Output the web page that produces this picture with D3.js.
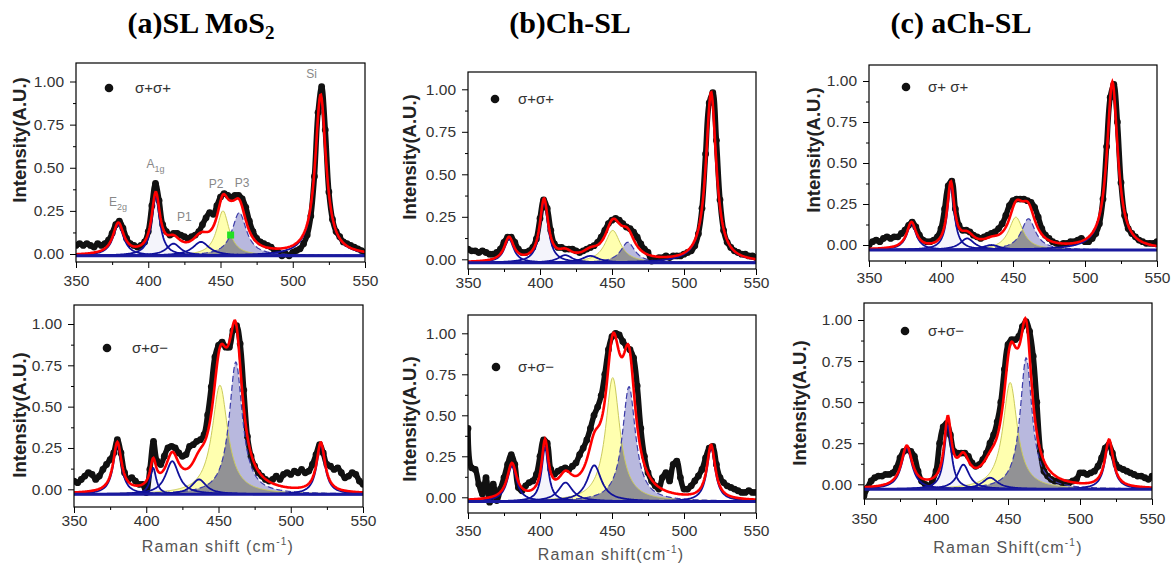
<!DOCTYPE html>
<html><head><meta charset="utf-8">
<script src="https://cdn.jsdelivr.net/npm/d3@7/dist/d3.min.js"></script>
<style>body{margin:0;background:#fff}svg{display:block}</style>
</head><body>
<svg id="chart" width="1173" height="568"></svg>
<script>
// ---------- DATA ----------
const gridStart = 350, gridStep = 2.5;   // sampling grid of the measured spectra (cm^-1)
const xTicks = [350, 400, 450, 500, 550];
const xMinorTicks = [375, 425, 475, 525];
const yTicks = [0, 0.25, 0.5, 0.75, 1.0];
const yMinorTicks = [0.125, 0.375, 0.625, 0.875];

// measured intensity, 350..550 step 2.5
const spectrumA_pp = [0.05,0.06,0.05,0.06,0.05,0.04,0.06,0.05,0.06,0.08,
 0.12,0.17,0.19,0.15,0.09,0.06,0.05,0.04,0.05,0.07,
 0.13,0.28,0.41,0.31,0.17,0.13,0.11,0.12,0.12,0.11,
 0.10,0.09,0.10,0.11,0.13,0.17,0.21,0.24,0.23,0.28,
 0.33,0.35,0.34,0.33,0.34,0.34,0.32,0.27,0.19,0.13,
 0.09,0.07,0.06,0.05,0.04,0.02,0.01,-0.01,0.00,-0.01,
 0.01,0.02,0.03,0.06,0.11,0.22,0.45,0.82,0.97,0.72,
 0.36,0.20,0.13,0.10,0.07,0.06,0.05,0.04,0.03,0.02,
 0.01];
const spectrumA_pm = [0.05,0.04,0.06,0.08,0.10,0.09,0.06,0.08,0.12,0.15,
 0.18,0.22,0.30,0.22,0.10,0.06,0.07,0.05,0.03,0.03,
 -0.02,0.12,0.29,0.17,0.15,0.20,0.25,0.26,0.25,0.22,
 0.20,0.21,0.26,0.27,0.29,0.30,0.33,0.45,0.62,0.80,
 0.87,0.89,0.86,0.86,0.96,0.99,0.88,0.60,0.32,0.20,
 0.14,0.10,0.08,0.06,0.05,0.06,0.08,0.06,0.09,0.10,
 0.09,0.11,0.10,0.12,0.10,0.11,0.15,0.21,0.27,0.22,
 0.15,0.14,0.12,0.13,0.10,0.07,0.08,0.10,0.09,0.05,
 0.03];
const spectrumB_pp = [0.06,0.05,0.05,0.04,0.05,0.04,0.03,0.03,0.04,0.06,
 0.10,0.13,0.13,0.10,0.06,0.04,0.04,0.05,0.07,0.12,
 0.24,0.35,0.30,0.17,0.09,0.07,0.07,0.06,0.06,0.06,
 0.05,0.04,0.05,0.06,0.07,0.08,0.10,0.13,0.17,0.21,
 0.23,0.24,0.23,0.21,0.19,0.18,0.16,0.13,0.09,0.06,
 0.04,-0.01,0.00,0.01,0.01,0.02,0.01,0.02,0.02,0.02,
 0.03,0.04,0.05,0.08,0.15,0.30,0.62,0.92,0.98,0.70,
 0.35,0.17,0.10,0.07,0.05,0.04,0.03,0.03,0.02,0.02,
 0.01];
const spectrumB_pm = [0.42,0.18,0.17,0.08,0.02,0.12,-0.03,0.08,-0.02,0.05,
 0.12,0.20,0.26,0.20,0.06,0.04,0.07,0.09,0.10,0.14,
 0.25,0.35,0.33,0.17,0.14,0.16,0.17,0.18,0.17,0.19,
 0.21,0.26,0.30,0.35,0.42,0.50,0.55,0.62,0.75,0.90,
 0.98,1.00,0.99,0.95,0.92,0.90,0.85,0.68,0.42,0.25,
 0.15,0.10,0.07,0.05,0.12,0.15,0.10,0.20,0.22,0.12,
 0.05,0.05,0.07,0.10,0.13,0.17,0.24,0.30,0.31,0.20,
 0.12,0.09,0.07,0.06,0.05,0.04,0.03,0.03,0.04,0.03,
 0.03];
const spectrumC_pp = [0.00,0.02,0.03,0.02,0.04,0.05,0.04,0.05,0.05,0.07,
 0.09,0.12,0.14,0.11,0.06,0.03,0.02,0.02,0.03,0.05,
 0.10,0.22,0.36,0.39,0.22,0.12,0.09,0.09,0.08,0.06,
 0.05,0.04,0.05,0.06,0.07,0.08,0.10,0.13,0.18,0.24,
 0.27,0.28,0.28,0.28,0.27,0.26,0.23,0.17,0.10,0.06,
 0.04,0.02,0.01,0.00,0.01,0.01,0.02,0.02,0.03,0.04,
 0.02,0.02,0.04,0.07,0.13,0.28,0.60,0.90,0.98,0.75,
 0.38,0.18,0.10,0.07,0.05,0.03,0.02,0.01,0.01,0.01,
 0.02];
const spectrumC_pm = [-0.07,-0.02,0.02,0.04,0.05,0.05,0.06,0.06,0.07,0.10,
 0.16,0.20,0.21,0.20,0.17,0.08,0.02,0.00,-0.01,0.02,
 0.08,0.25,0.35,0.37,0.30,0.20,0.19,0.19,0.19,0.17,
 0.13,0.11,0.12,0.15,0.19,0.25,0.30,0.38,0.50,0.70,
 0.85,0.88,0.88,0.90,0.96,0.99,0.93,0.78,0.50,0.20,
 0.08,0.05,0.03,0.02,0.02,0.01,0.01,0.01,0.02,0.03,
 0.07,0.07,0.06,0.07,0.08,0.11,0.16,0.22,0.24,0.19,
 0.12,0.10,0.09,0.08,0.07,0.06,0.05,0.05,0.04,0.03,
 0.05];

// fitted Lorentzian components: E2g, A1g, P1, P(436), P2, broad band, P3, Si
const centersA_pp = [379.3,405.2,417.5,436.5,451.7,457.5,463,519.3];
const heightsA_pp = [0.18,0.34,0.07,0.08,0.26,0.05,0.25,0.93];
const widthsA_pp  = [4.5,3.5,6,7,5.2,4,6,4.5];
const baselineA_pp = -0.01;
const centersA_pm = [380,404.8,418,436.5,451,457,462,520.8];
const heightsA_pm = [0.30,0.16,0.20,0.09,0.66,0.10,0.80,0.30];
const widthsA_pm  = [3.5,2.5,5.5,6,6.5,6,5.5,3.5];
const baselineA_pm = -0.03;
const centersB_pp = [378.5,402.8,417.5,435,450.5,455,461,518.8];
const heightsB_pp = [0.14,0.36,0.045,0.04,0.19,0.03,0.12,1.0];
const widthsB_pp  = [4,3.5,6,7,6.5,8,6,4.3];
const baselineB_pp = -0.02;
const centersB_pm = [380.5,403.5,417.7,437.7,450.5,455,461.8,518.8];
const heightsB_pm = [0.215,0.33,0.115,0.22,0.755,0.12,0.70,0.33];
const widthsB_pm  = [4,2.8,6,6,6,7,5.5,3.5];
const baselineB_pm = -0.025;
const centersC_pp = [379.5,406.8,418.2,435,452,456,460.7,519];
const heightsC_pp = [0.16,0.39,0.07,0.03,0.20,0.03,0.19,1.02];
const widthsC_pp  = [4,3,6,7,6,8,6,4.5];
const baselineC_pp = -0.03;
const centersC_pm = [379.7,408.2,419,437.6,451.5,457,462.6,520.2];
const heightsC_pm = [0.25,0.39,0.15,0.07,0.65,0.14,0.80,0.29];
const widthsC_pm  = [4.5,3,5,6.5,6,6,5,3.5];
const baselineC_pm = -0.03;

const panelTitles = ["(a)SL MoS", "(b)Ch-SL", "(c) aCh-SL"];
const legendLabels = ["σ+σ+", "σ+σ−", "σ+σ+", "σ+σ−", "σ+ σ+", "σ+σ−"];
const xAxisTitles = ["Raman shift (cm", "Raman shift(cm", "Raman Shift(cm"];
const yAxisTitle = "Intensity(A.U.)";
const peakLabels = [["E","2g"],["A","1g"],["P1",""],["P2",""],["P3",""],["Si",""]];
const peakLabelPos = [[379,0.28],[405,0.5],[425,0.19],[447,0.38],[465,0.39],[513,1.02]];
const markerPoint = [457, 0.11];

// ---------- LAYOUT / STYLE ----------
const componentKind = ["line","lightfill","line","line","yellow","hidden","lavender","line"];
const panels = [
 {data:spectrumA_pp, c:centersA_pp, h:heightsA_pp, w:widthsA_pp, b:baselineA_pp, box:[76,365,63,262], zero:254, one:81.5, tickY:286, leg:[109,88,135], yt:[19,140], legend:0},
 {data:spectrumA_pm, c:centersA_pm, h:heightsA_pm, w:widthsA_pm, b:baselineA_pm, box:[74,363,305,507], zero:489.3, one:324, tickY:526, leg:[107,348,132], yt:[19,415], legend:1, xt:[218,552,0]},
 {data:spectrumB_pp, c:centersB_pp, h:heightsB_pp, w:widthsB_pp, b:baselineB_pp, box:[468,756,72,269], zero:259.3, one:89.3, tickY:288, leg:[495,99,518], yt:[409,157], legend:2},
 {data:spectrumB_pm, c:centersB_pm, h:heightsB_pm, w:widthsB_pm, b:baselineB_pm, box:[468,756,315,513], zero:497.3, one:333.3, tickY:536, leg:[496,367,518], yt:[409,419], legend:3, xt:[611,560,1]},
 {data:spectrumC_pp, c:centersC_pp, h:heightsC_pp, w:widthsC_pp, b:baselineC_pp, box:[869,1157,65,261], zero:245, one:81, tickY:283, leg:[906,87,928], yt:[813,150], legend:4},
 {data:spectrumC_pm, c:centersC_pm, h:heightsC_pm, w:widthsC_pm, b:baselineC_pm, box:[864,1152,303,499], zero:484.3, one:320, tickY:524, leg:[905,331,928], yt:[799,403], legend:5, xt:[1008,553,2]}
];

const svg = d3.select("#chart");
const defs = svg.append("defs");
const lor = (v, c, h, w) => h / (1 + ((v - c) / w) ** 2);
const fine = d3.range(350, 550.001, 0.5);
const sansFont = "'Liberation Sans', Arial, sans-serif";

panels.forEach((p, pi) => {
  const [x0, x1, y0, y1] = p.box;
  const x = d3.scaleLinear().domain([350, 550]).range([x0, x1]);
  const y = d3.scaleLinear().domain([0, 1]).range([p.zero, p.one]);
  const clipId = "clip" + pi;
  defs.append("clipPath").attr("id", clipId).append("rect")
    .attr("x", x0).attr("y", y0).attr("width", x1 - x0).attr("height", y1 - y0);
  const g = svg.append("g");
  const plot = g.append("g").attr("clip-path", `url(#${clipId})`);

  const compPts = i => fine.map(v => [v, p.b + lor(v, p.c[i], p.h[i], p.w[i])]);
  const fitPts = fine.map(v => [v, p.b + d3.sum(p.c, (c, i) => lor(v, c, p.h[i], p.w[i]))]);
  const area = d3.area().x(d => x(d[0])).y0(y(p.b)).y1(d => y(d[1]));
  const line = d3.line().x(d => x(d[0])).y(d => y(d[1]));
  const iY = componentKind.indexOf("yellow"), iL = componentKind.indexOf("lavender"), iA = componentKind.indexOf("lightfill");
  const yel = compPts(iY), lav = compPts(iL);
  const overlap = yel.map((d, k) => [d[0], Math.min(d[1], lav[k][1])]);

  plot.append("path").attr("d", area(compPts(iA))).attr("fill", "#d4d4f0").attr("opacity", 0.25);
  plot.append("path").attr("d", area(yel)).attr("fill", "#ffffa6").attr("opacity", 0.9);
  plot.append("path").attr("d", area(lav)).attr("fill", "#ababd8").attr("opacity", 0.85);
  plot.append("path").attr("d", area(overlap)).attr("fill", "#8e8e8e").attr("opacity", 0.9);

  // measured spectrum
  const pts = p.data.map((v, i) => [gridStart + gridStep * i, v]);
  plot.append("path").attr("d", d3.line().x(d => x(d[0])).y(d => y(d[1])).curve(d3.curveCatmullRom)(pts))
    .attr("fill", "none").attr("stroke", "#111").attr("stroke-width", 5.5).attr("stroke-linejoin", "round");
  plot.selectAll("circle.pt").data(pts).join("circle").attr("class", "pt")
    .attr("cx", d => x(d[0])).attr("cy", d => y(d[1])).attr("r", 3.4).attr("fill", "#111");

  // component outlines
  plot.append("path").attr("d", line(yel)).attr("fill", "none").attr("stroke", "#cbcb5c").attr("stroke-width", 1);
  plot.append("path").attr("d", line(lav)).attr("fill", "none").attr("stroke", "#3c3ca8").attr("stroke-width", 1.2).attr("stroke-dasharray", "6,3");
  componentKind.forEach((k, i) => {
    if (k === "line" || k === "lightfill")
      plot.append("path").attr("d", line(compPts(i))).attr("fill", "none").attr("stroke", "#10109a").attr("stroke-width", 1.8);
  });
  // total fit
  plot.append("path").attr("d", line(fitPts)).attr("fill", "none").attr("stroke", "#ff0000").attr("stroke-width", 2.6);
  // baseline
  plot.append("line").attr("x1", x0).attr("x2", x1).attr("y1", y(p.b)).attr("y2", y(p.b))
    .attr("stroke", "#1a1a9e").attr("stroke-width", 3);

  // frame
  g.append("rect").attr("x", x0).attr("y", y0).attr("width", x1 - x0).attr("height", y1 - y0)
    .attr("fill", "none").attr("stroke", "#000").attr("stroke-width", 1.2);

  // axes
  const xa = g.append("g").attr("transform", `translate(0,${y1})`)
    .call(d3.axisBottom(x).tickValues(xTicks).tickSize(6).tickFormat(d3.format("d")));
  xa.select(".domain").remove();
  xa.selectAll("text").attr("font-size", 15.5).attr("font-family", sansFont).attr("fill", "#333")
    .attr("y", null).attr("dy", null).attr("transform", `translate(0,${p.tickY - y1})`);
  const xm = g.append("g").attr("transform", `translate(0,${y1})`)
    .call(d3.axisBottom(x).tickValues(xMinorTicks).tickSize(3).tickFormat(""));
  xm.select(".domain").remove();

  const ya = g.append("g").attr("transform", `translate(${x0},0)`)
    .call(d3.axisLeft(y).tickValues(yTicks).tickSize(6).tickPadding(6).tickFormat(d3.format(".2f")));
  ya.select(".domain").remove();
  ya.selectAll("text").attr("font-size", 15.5).attr("font-family", sansFont).attr("fill", "#333");
  const ym = g.append("g").attr("transform", `translate(${x0},0)`)
    .call(d3.axisLeft(y).tickValues(yMinorTicks).tickSize(3).tickFormat(""));
  ym.select(".domain").remove();
  g.selectAll(".tick line").attr("stroke", "#000");

  // y title
  g.append("text").attr("transform", `translate(${p.yt[0]},${p.yt[1]}) rotate(-90)`)
    .attr("text-anchor", "middle").attr("dominant-baseline", "central")
    .attr("font-family", sansFont).attr("font-weight", "bold").attr("font-size", 18.5).attr("fill", "#222")
    .text(yAxisTitle);

  // legend
  g.append("circle").attr("cx", p.leg[0]).attr("cy", p.leg[1]).attr("r", 4.3).attr("fill", "#111");
  g.append("text").attr("x", p.leg[2]).attr("y", p.leg[1] + 5).attr("font-family", sansFont)
    .attr("font-size", 15).attr("fill", "#333").text(legendLabels[p.legend]);

  // x title
  if (p.xt) {
    const t = g.append("text").attr("x", p.xt[0]).attr("y", p.xt[1]).attr("text-anchor", "middle")
      .attr("font-family", sansFont).attr("font-size", 16).attr("fill", "#555").attr("letter-spacing", 1.2);
    t.append("tspan").text(xAxisTitles[p.xt[2]]);
    t.append("tspan").attr("dy", -7).attr("font-size", 10).text("-1");
    t.append("tspan").attr("dy", 7).text(")");
  }

  // peak annotations in panel (a) top
  if (pi === 0) {
    peakLabels.forEach((lab, i) => {
      const t = g.append("text").attr("x", x(peakLabelPos[i][0])).attr("y", y(peakLabelPos[i][1]))
        .attr("text-anchor", "middle").attr("font-family", sansFont).attr("font-size", 12).attr("fill", "#888");
      t.append("tspan").text(lab[0]);
      if (lab[1]) t.append("tspan").attr("dy", 4).attr("font-size", 9).text(lab[1]);
    });
    g.append("rect").attr("x", x(markerPoint[0]) - 3.5).attr("y", y(markerPoint[1]) - 3.5)
      .attr("width", 7).attr("height", 7).attr("fill", "#22e022");
  }
});

// panel titles
const titleX = [201, 570, 961];
panelTitles.forEach((tt, i) => {
  const t = svg.append("text").attr("x", titleX[i]).attr("y", 33).attr("text-anchor", "middle")
    .attr("font-family", "'Liberation Serif', 'Times New Roman', serif").attr("font-weight", "bold")
    .attr("font-size", 30).attr("fill", "#000");
  t.append("tspan").text(tt);
  if (i === 0) t.append("tspan").attr("dy", 6).attr("font-size", 19).text("2");
});
</script>
</body></html>
